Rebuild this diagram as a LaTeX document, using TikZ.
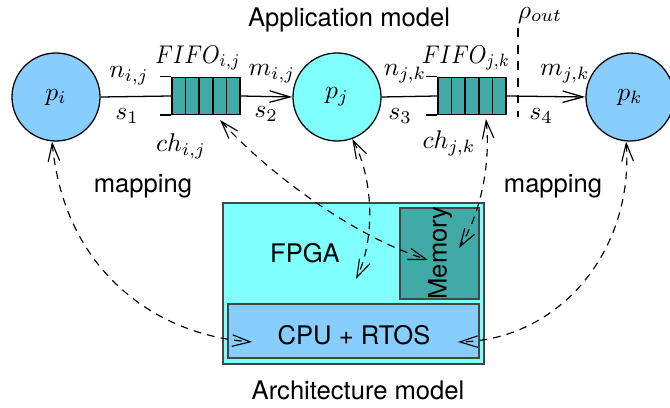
\documentclass[tikz,border=0pt]{standalone}
\usepackage[no-math]{fontspec}
\setmainfont{TeX Gyre Heros}
\usetikzlibrary{arrows.meta,calc}
\definecolor{procblue}{RGB}{135,206,255}
\definecolor{proccyan}{RGB}{128,255,255}
\definecolor{fifoteal}{RGB}{66,170,166}
\definecolor{boxedge}{RGB}{70,70,70}
\begin{document}
\begin{tikzpicture}[x=0.01373cm,y=-0.01373cm,
  proc/.style={circle, draw, line width=0.5pt, minimum size=88*0.01373cm, inner sep=0pt},
  fifobox/.style={draw, fill=fifoteal, line width=0.5pt, minimum width=68*0.01373cm,
                  minimum height=37*0.01373cm, inner sep=0pt},
  barb/.style={line width=0.5pt, -{Straight Barb[length=8pt,width=4.5pt]}},
  mapline/.style={line width=0.45pt, dash pattern=on 3pt off 2.4pt,
                  {Straight Barb[length=7pt,width=4.5pt]}-{Straight Barb[length=7pt,width=4.5pt]}},
  lbl/.style={inner sep=0pt},
  fifolbl/.style={inner sep=0pt, xscale=0.88}
]
\useasboundingbox (0,0) rectangle (670,408);

% titles
\node[lbl] (apptitle) at (349,20) {Application model};
\node[lbl] (archtitle) at (358,390) {Architecture model};

% processes
\node[proc, fill=procblue] (pi) at (56,97) {$p_i$};
\node[proc, fill=proccyan] (pj) at (337,97) {$p_j$};
\node[proc, fill=procblue] (pk) at (630,97) {$p_k$};

% channels with their FIFO buffers
\node[fifobox] (f1) at (206,96) {};
\node[fifobox] (f2) at (472,96) {};
\foreach \f in {f1,f2}{
  \foreach \k in {1,2,3,4}
    \draw[line width=0.5pt] ($(\f.south west)!\k/5!(\f.south east)$) -- ($(\f.north west)!\k/5!(\f.north east)$);
  \draw[line width=0.5pt] (\f.north west) -- ++(-11,0);
  \draw[line width=0.5pt] (\f.south west) -- ++(-11,0);
}
\draw[line width=0.5pt] (pi.east) -- (f1.west);
\draw[barb] (f1.east) -- (pj.west);
\draw[line width=0.5pt] (pj.east) -- (f2.west);
\draw[barb] (f2.east) -- (pk.west);

% output rate cut
\coordinate (rhotop) at (518,28);
\coordinate (rhobot) at (518,117);
\draw[line width=0.4pt, dash pattern=on 3.5pt off 3pt] (rhotop) -- (rhobot);

% channel labels
\node[lbl] (nij) at (129,76) {$n_{i,j}$};
\node[lbl] (s1) at (127,116) {$s_1$};
\node[fifolbl] (fifoij) at (198,58) {$FIFO_{i,j}$};
\node[lbl] (chij) at (181,146) {$ch_{i,j}$};
\node[lbl] (mij) at (272,74) {$m_{i,j}$};
\node[lbl] (s2) at (266,114) {$s_2$};
\node[lbl] (njk) at (405,74) {$n_{j,k}$};
\node[lbl] (s3) at (400,116) {$s_3$};
\node[fifolbl] (fifojk) at (466,58) {$FIFO_{j,k}$};
\node[lbl] (chjk) at (449,143) {$ch_{j,k}$};
\node[lbl] (mjk) at (565,74) {$m_{j,k}$};
\node[lbl] (s4) at (541,116) {$s_4$};
\node[lbl] (rho) at (540,15) {$\rho_{out}$};

% architecture
\node[draw=boxedge, fill=proccyan, line width=0.5pt, minimum width=261*0.01373cm,
      minimum height=161*0.01373cm, inner sep=0pt] (fpga) at (353.5,283.5) {};
\node[lbl] (fpgatxt) at (305,253) {FPGA};
\node[draw=boxedge, fill=fifoteal, line width=0.5pt, minimum width=79*0.01373cm,
      minimum height=91*0.01373cm, inner sep=0pt] (mem) at (439.5,253.5) {};
\node[lbl, rotate=90] (memtxt) at (440,253) {Memory};
\node[draw=boxedge, fill=procblue, line width=0.5pt, minimum width=251*0.01373cm,
      minimum height=54*0.01373cm, inner sep=0pt] (cpu) at (353.5,331) {};
\node[lbl] (cputxt) at (354,335) {CPU + RTOS};

\node[lbl] (mapl) at (143,186) {mapping};
\node[lbl] (mapr) at (553,186) {mapping};

% mapping end points
\coordinate (fifo1end) at (220,120);
\coordinate (fifo2end) at (486,119);
\coordinate (cpuleft) at (252,342);
\coordinate (cpuright) at (458,342);
\coordinate (fpgain) at (356,279);
\coordinate (memA) at (428,260);
\coordinate (memB) at (459,248);

% mapping arrows
\draw[mapline] (pi.-95) .. controls (64,270) and (155,335) .. (cpuleft);
\draw[mapline] (fifo1end) .. controls (265,170) and (350,235) .. (memA);
\draw[mapline] (pj.-70) .. controls (374,180) and (375,240) .. (fpgain);
\draw[mapline] (fifo2end) .. controls (491,165) and (480,215) .. (memB);
\draw[mapline] (pk.-95) .. controls (634,250) and (560,340) .. (cpuright);
\end{tikzpicture}
\end{document}
